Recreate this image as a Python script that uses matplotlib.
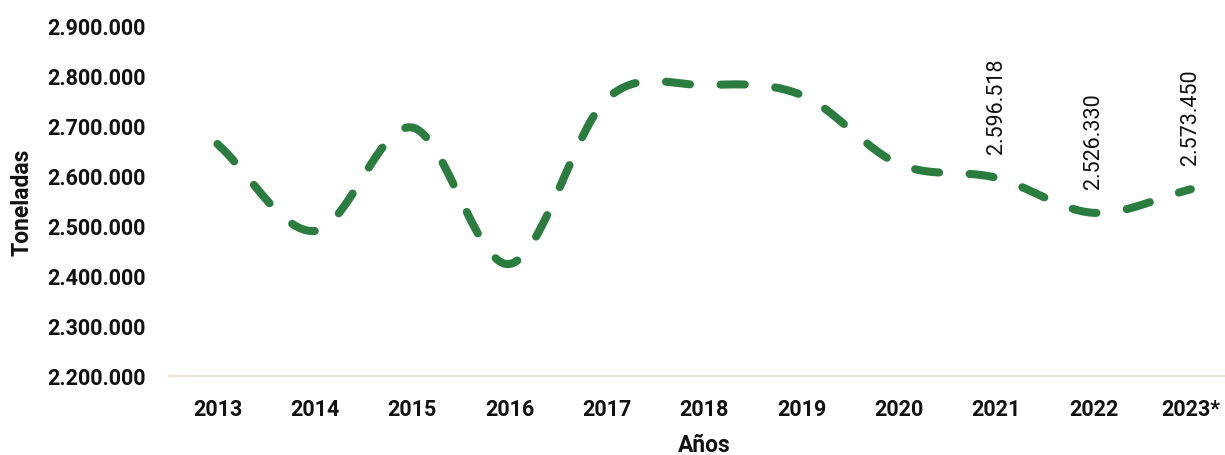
import numpy as np
import matplotlib
matplotlib.use("Agg")
import matplotlib.pyplot as plt
from matplotlib.ticker import FuncFormatter

# Data
years = ["2013", "2014", "2015", "2016", "2017", "2018", "2019", "2020", "2021", "2022", "2023*"]
toneladas = [2664000, 2490000, 2697000, 2424000, 2754000, 2782000, 2762000, 2624000, 2596518, 2526330, 2573450]
labeled_years = ["2021", "2022", "2023*"]

yticks = [2200000, 2300000, 2400000, 2500000, 2600000, 2700000, 2800000, 2900000]

plt.rcParams['font.family'] = ['Roboto', 'DejaVu Sans']


def fmt_es(v, pos=None):
    return f"{int(round(v)):,}".replace(",", ".")


def smooth(x, y, n=40):
    # Catmull-Rom style smoothing like Excel's smoothed line
    x = np.asarray(x, float)
    y = np.asarray(y, float)
    px = np.concatenate([[2 * x[0] - x[1]], x, [2 * x[-1] - x[-2]]])
    py = np.concatenate([[2 * y[0] - y[1]], y, [2 * y[-1] - y[-2]]])
    xs, ys = [], []
    t = np.linspace(0, 1, n, endpoint=False)
    for i in range(1, len(px) - 2):
        p0, p1, p2, p3 = py[i - 1], py[i], py[i + 1], py[i + 2]
        q0, q1, q2, q3 = px[i - 1], px[i], px[i + 1], px[i + 2]
        ys.append(0.5 * (2 * p1 + (-p0 + p2) * t + (2 * p0 - 5 * p1 + 4 * p2 - p3) * t**2
                         + (-p0 + 3 * p1 - 3 * p2 + p3) * t**3))
        xs.append(0.5 * (2 * q1 + (-q0 + q2) * t + (2 * q0 - 5 * q1 + 4 * q2 - q3) * t**2
                         + (-q0 + 3 * q1 - 3 * q2 + q3) * t**3))
    xs.append([x[-1]])
    ys.append([y[-1]])
    return np.concatenate(xs), np.concatenate(ys)


W, H = 1225, 456
fig = plt.figure(figsize=(W / 100, H / 100), dpi=100)
left, right = 168.8, 1239.5
top, bottom = 27, 377
ax = fig.add_axes([left / W, 1 - bottom / H, (right - left) / W, (bottom - top) / H])

x = np.arange(len(years))
sx, sy = smooth(x, toneladas)
green = "#2a7d3e"
ax.plot(sx, sy, color=green, lw=5.8, dashes=(3.0, 3.8), dash_capstyle="round",
        solid_capstyle="round", clip_on=False)

for i, yr in enumerate(years):
    if yr in labeled_years:
        ax.annotate(fmt_es(toneladas[i]), (x[i], toneladas[i]), xytext=(0, 18),
                    textcoords="offset points", rotation=90, ha="center", va="bottom",
                    fontsize=15.5, color="#111111")

ax.set_xlim(-0.5, len(years) - 0.5)
ax.set_ylim(yticks[0], yticks[-1])
ax.set_xticks(x)
ax.set_xticklabels(years)
ax.set_yticks(yticks)
ax.yaxis.set_major_formatter(FuncFormatter(fmt_es))
ax.tick_params(axis="both", length=0, labelsize=15.5, colors="#111111")
ax.tick_params(axis="x", pad=16)
ax.tick_params(axis="y", pad=16.5)
for lab in ax.get_xticklabels() + ax.get_yticklabels():
    lab.set_fontweight("bold")

for s in ["top", "right", "left"]:
    ax.spines[s].set_visible(False)
ax.spines["bottom"].set_color("#efe2d6")
ax.spines["bottom"].set_linewidth(1.5)

ax.set_xlabel("Años", fontsize=16.5, fontweight="bold", color="#111111")
ax.set_ylabel("Toneladas", fontsize=16.5, fontweight="bold", color="#111111")
ax.yaxis.set_label_coords(-(left - 22) / (right - left), 0.5)
ax.xaxis.set_label_coords((704 - left) / (right - left), -(446 - bottom) / (bottom - top))
ax.xaxis.label.set_va("center")
ax.yaxis.label.set_va("center")

fig.savefig("out.png", dpi=100)
